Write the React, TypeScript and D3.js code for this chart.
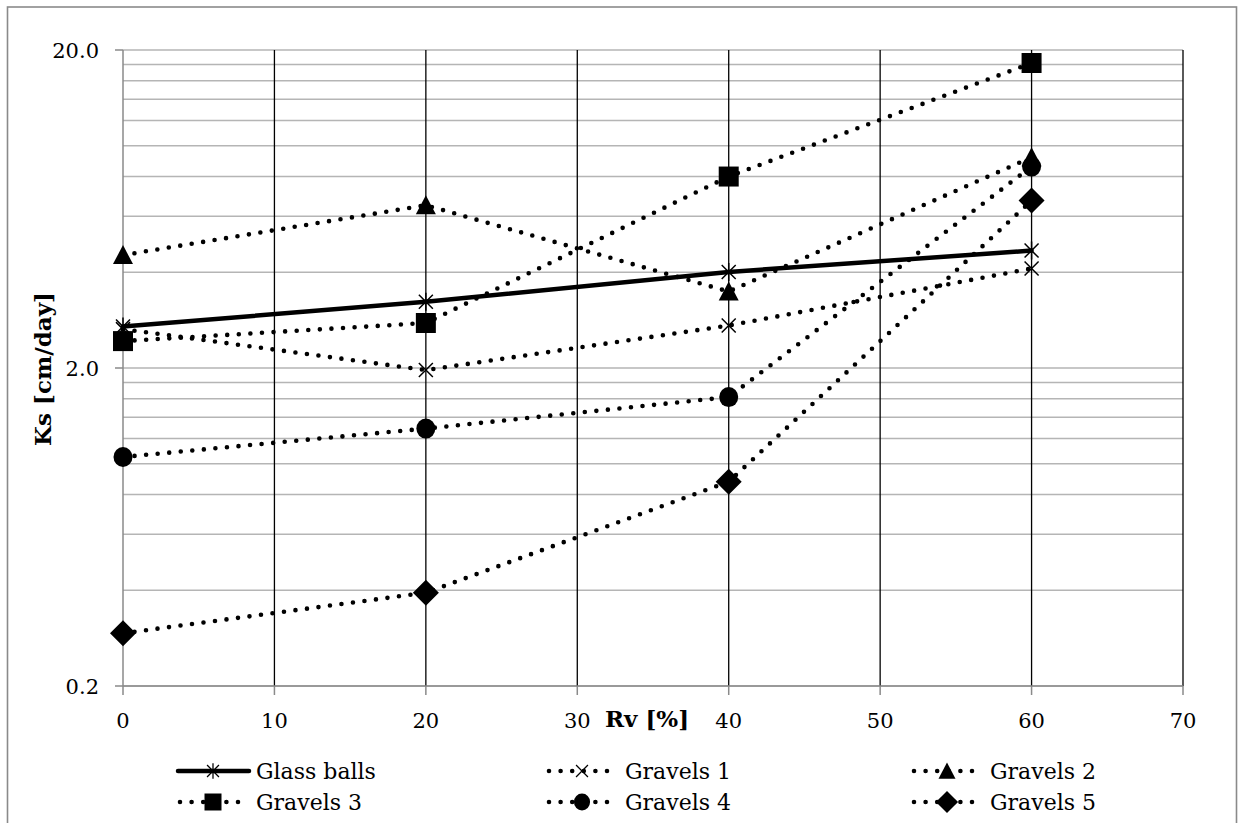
import React from "react";
import * as d3 from "d3";

const rv = [0, 20, 40, 60];
const glassBalls = [2.7, 3.23, 4.01, 4.68];
const gravels1 = [2.65, 1.97, 2.72, 4.11];
const gravels2 = [4.53, 6.5, 3.48, 9.2];
const gravels3 = [2.43, 2.77, 8.0, 18.2];
const gravels4 = [1.05, 1.29, 1.62, 8.6];
const gravels5 = [0.293, 0.393, 0.878, 6.72];

const xTicks = [0, 10, 20, 30, 40, 50, 60, 70];
const yMajor = [0.2, 2, 20];
const yMajorLabels = ["0.2", "2.0", "20.0"];
const yMinor = [0.2, 0.4, 0.6, 0.8, 1.0, 1.2, 1.4, 1.6, 1.8, 2, 4, 6, 8, 10, 12, 14, 16, 18, 20];

type Marker = "star" | "x" | "triangle" | "square" | "circle" | "diamond";
const seriesList: { name: string; values: number[]; marker: Marker; dotted: boolean }[] = [
  { name: "Glass balls", values: glassBalls, marker: "star", dotted: false },
  { name: "Gravels 1", values: gravels1, marker: "x", dotted: true },
  { name: "Gravels 2", values: gravels2, marker: "triangle", dotted: true },
  { name: "Gravels 3", values: gravels3, marker: "square", dotted: true },
  { name: "Gravels 4", values: gravels4, marker: "circle", dotted: true },
  { name: "Gravels 5", values: gravels5, marker: "diamond", dotted: true },
];

const W = 1239;
const H = 823;
const left = 123, right = 1183, top = 50, bottom = 686;
const FONT = "'DejaVu Serif', Cambria, serif";

function MarkerShape({ type, cx, cy, s = 1 }: { type: Marker; cx: number; cy: number; s?: number }) {
  const t = `translate(${cx},${cy}) scale(${s})`;
  switch (type) {
    case "star":
      return (
        <g transform={t} stroke="#000" strokeWidth={1.5} fill="none">
          <path d="M-7,-7L7,7M-7,7L7,-7M0,-9L0,9" />
        </g>
      );
    case "x":
      return (
        <g transform={t} stroke="#000" strokeWidth={1.5} fill="none">
          <path d="M-7,-7L7,7M-7,7L7,-7" />
        </g>
      );
    case "triangle":
      return <path transform={t} d="M0,-10L10,9L-10,9Z" fill="#000" />;
    case "square":
      return <path transform={t} d={d3.symbol(d3.symbolSquare, 400)()!} fill="#000" />;
    case "circle":
      return <ellipse transform={t} rx={9.5} ry={10} fill="#000" />;
    case "diamond":
      return <path transform={t} d="M0,-13L13,0L0,13L-13,0Z" fill="#000" />;
  }
}

export default function App() {
  const x = d3.scaleLinear().domain([0, 70]).range([left, right]);
  const y = d3.scaleLog().domain([0.2, 20]).range([bottom, top]);
  const line = d3
    .line<number>()
    .x((_, i) => x(rv[i]))
    .y((v) => y(v));

  const legendCols = [178, 547, 912];
  const legendRows = [771, 802];

  return (
    <svg
      width={W}
      height={H}
      style={{ position: "absolute", left: 0, top: 0, background: "#fff" }}
      fontFamily={FONT}
    >
      <rect x={0} y={0} width={W} height={H} fill="#fff" />
      <rect x={7.5} y={7} width={1229} height={900} fill="none" stroke="#8a8a8a" strokeWidth={1.6} />

      {/* horizontal gridlines */}
      {yMinor.map((v, i) => (
        <line key={"h" + i} x1={left} x2={right} y1={y(v)} y2={y(v)} stroke="#b5b5b5" strokeWidth={1.5} />
      ))}
      {/* vertical gridlines */}
      {xTicks.filter((v) => v > 0).map((v) => (
        <line key={"v" + v} x1={x(v)} x2={x(v)} y1={top} y2={bottom} stroke="#000" strokeWidth={1.3} />
      ))}
      {/* axes */}
      <line x1={left} x2={left} y1={top} y2={bottom} stroke="#8a8a8a" strokeWidth={1.5} />
      <line x1={left} x2={right} y1={bottom} y2={bottom} stroke="#8a8a8a" strokeWidth={1.5} />
      {yMajor.map((v) => (
        <line key={"yt" + v} x1={left - 8} x2={left} y1={y(v)} y2={y(v)} stroke="#8a8a8a" strokeWidth={1.5} />
      ))}
      {xTicks.map((v) => (
        <line key={"xt" + v} x1={x(v)} x2={x(v)} y1={bottom} y2={bottom + 9} stroke="#8a8a8a" strokeWidth={1.5} />
      ))}

      {/* tick labels */}
      {yMajor.map((v, i) => (
        <text key={"yl" + v} x={99} y={y(v)} dy="0.36em" textAnchor="end" fontSize={21} fill="#000">
          {yMajorLabels[i]}
        </text>
      ))}
      {xTicks.map((v) => (
        <text key={"xl" + v} x={x(v)} y={728} textAnchor="middle" fontSize={21} fill="#000">
          {v}
        </text>
      ))}

      {/* axis titles */}
      <text x={647} y={727} textAnchor="middle" fontSize={23} fontWeight="bold" fill="#000">
        Rv [%]
      </text>
      <text
        transform={`translate(51,369) rotate(-90)`}
        textAnchor="middle"
        fontSize={23}
        fontWeight="bold"
        fill="#000"
      >
        Ks [cm/day]
      </text>

      {/* series */}
      {seriesList.map((s) => (
        <g key={s.name}>
          <path
            d={line(s.values)!}
            fill="none"
            stroke="#000"
            strokeWidth={s.dotted ? 4.6 : 4.5}
            strokeLinecap="round"
            strokeDasharray={s.dotted ? "0 11.6" : undefined}
          />
          {s.values.map((v, i) => (
            <MarkerShape key={i} type={s.marker} cx={x(rv[i])} cy={y(v)} />
          ))}
        </g>
      ))}

      {/* legend */}
      {seriesList.map((s, i) => {
        const lx = legendCols[i % 3];
        const ly = legendRows[Math.floor(i / 3)];
        return (
          <g key={"lg" + s.name}>
            {s.dotted ? (
              <line
                x1={lx + 2}
                x2={lx + 64}
                y1={ly}
                y2={ly}
                stroke="#000"
                strokeWidth={4.6}
                strokeLinecap="round"
                strokeDasharray="0 11.6"
              />
            ) : (
              <line x1={lx} x2={lx + 71} y1={ly} y2={ly} stroke="#000" strokeWidth={4.5} strokeLinecap="round" />
            )}
            <MarkerShape type={s.marker} cx={lx + 35} cy={ly} s={0.85} />
            <text x={lx + 78} y={ly} dy="0.36em" fontSize={22} fill="#000">
              {s.name}
            </text>
          </g>
        );
      })}
    </svg>
  );
}
